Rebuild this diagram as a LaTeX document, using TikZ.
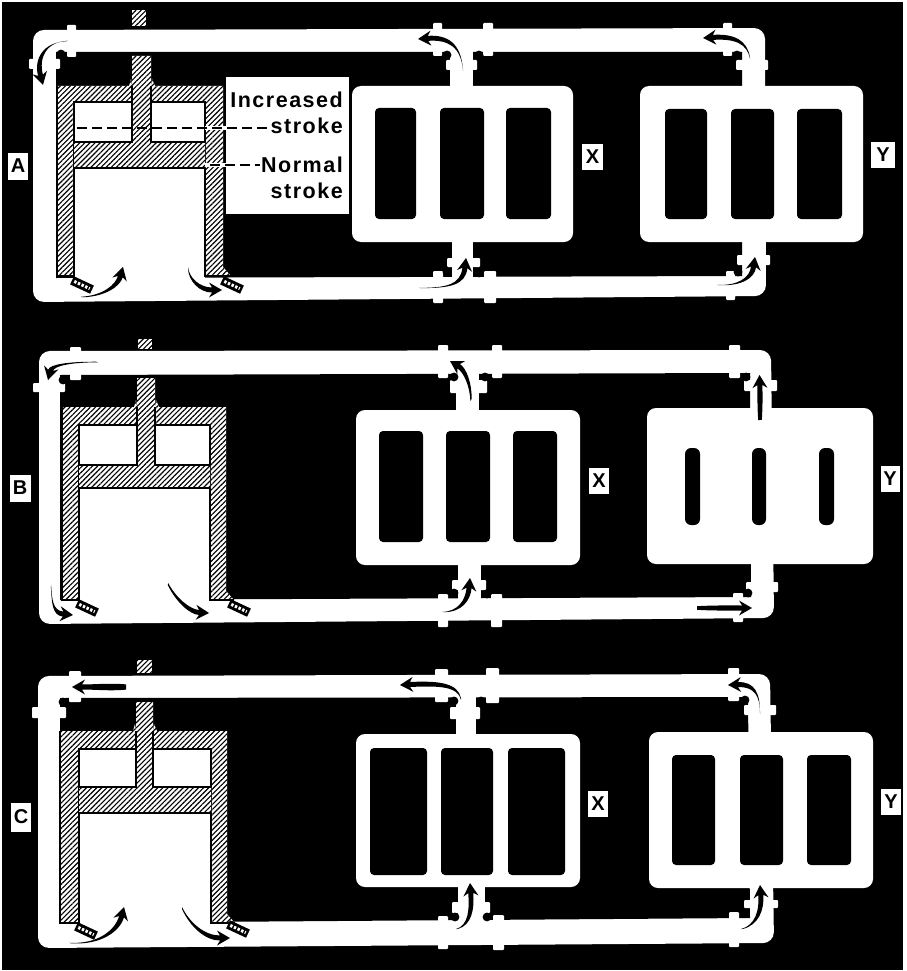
\documentclass[tikz,border=0pt]{standalone}
\usepackage{fontspec}
\setmainfont{Liberation Sans}
\newfontfamily\letterfont[LetterSpace=7]{Liberation Sans}
\usetikzlibrary{patterns.meta}
\tikzset{
  x=1pt,y=-1pt,
  hatch/.style={fill=white,postaction={pattern={Lines[angle=45,distance=3.6pt,line width=1.15pt]},pattern color=black}},
  hole/.style={fill=black,rounded corners=4pt},
  body/.style={fill=white,rounded corners=9pt},
  flange/.style={fill=white,rounded corners=1pt},
  edge/.style={black,line width=2.4pt,line join=miter},
  lbl/.style={fill=white,inner sep=0pt,font=\bfseries\fontsize{20}{20}\selectfont,text=black},
  note/.style={anchor=base east,inner sep=0pt,text=black,font=\letterfont\bfseries\fontsize{21.5}{21.5}\selectfont}
}
\newcommand{\fl}[4]{\path[flange] (#1,#2) rectangle (#3,#4);}
\newcommand{\dt}[2]{\fill[black] (#1,#2) circle (4.4pt);}
\newcommand{\vlv}[2]{\begin{scope}[shift={(#1,#2)},rotate=-25]
  \fill[black] (-11,-4.5) rectangle (11,4.5);
  \draw[white,line width=3pt,dash pattern=on 2.4pt off 1.6pt] (-8.5,0) -- (8.5,0);
\end{scope}}
% tapered flow arrow: start, control, control, tip, tail half width
\newcommand{\arr}[9]{
  \pgfmathsetmacro\arrdx{#7-#5}\pgfmathsetmacro\arrdy{#8-#6}
  \pgfmathsetmacro\arrlen{sqrt(\arrdx*\arrdx+\arrdy*\arrdy)}
  \pgfmathsetmacro\arrux{\arrdx/\arrlen}\pgfmathsetmacro\arruy{\arrdy/\arrlen}
  \pgfmathsetmacro\arrbx{#7-\arrux*10}\pgfmathsetmacro\arrby{#8-\arruy*10}
  \pgfmathsetmacro\arrnx{-\arruy}\pgfmathsetmacro\arrny{\arrux}
  \fill[black] (#1+\arrnx*#9,#2+\arrny*#9) .. controls (#3+\arrnx*#9*1.6,#4+\arrny*#9*1.6) and (#5+\arrnx*2.5,#6+\arrny*2.5) .. (\arrbx+\arrnx*2.5,\arrby+\arrny*2.5)
    -- (\arrbx-\arrux*3+\arrnx*7.5,\arrby-\arruy*3+\arrny*7.5) -- (#7,#8)
    -- (\arrbx-\arrux*3-\arrnx*7.5,\arrby-\arruy*3-\arrny*7.5) -- (\arrbx-\arrnx*2.5,\arrby-\arrny*2.5)
    .. controls (#5-\arrnx*2.5,#6-\arrny*2.5) and (#3-\arrnx*#9*1.6,#4-\arrny*#9*1.6) .. (#1-\arrnx*#9,#2-\arrny*#9) -- cycle;
}
\newcommand{\eng}[7]{
  \path[hatch] (#1,#7) -- (#1,#5) -- (#4,#5) -- (#4,#7-9) -- (#4+8,#7) -- (#3,#7) -- (#3,#6) -- (#2,#6) -- (#2,#7) -- cycle;
  \draw[edge] (#1,#5) -- (#1,#7) -- (#2,#7) -- (#2,#6) -- (#3,#6) -- (#3,#7) -- (#4+8,#7);
}
\newcommand{\pst}[8]{
  \path[hatch] (#1,#3) -- (#5,#3) -- (#5,#7) -- (#6,#7) -- (#6,#3) -- (#2,#3) -- (#2,#4) -- (#1,#4) -- cycle;
  \path[hatch] (#5,#8) -- (#5-3,#8) -- (#5-1,#8-7) -- cycle;
  \path[hatch] (#6,#8) -- (#6+4,#8) -- (#6+1,#8-7) -- cycle;
  \draw[edge] (#1,#3) -- (#5,#3) -- (#5,#8);
  \draw[edge] (#2,#3) -- (#6,#3) -- (#6,#8);
  \draw[edge] (#1,#4) -- (#2,#4);
}
\begin{document}
\begin{tikzpicture}
\useasboundingbox (0,0) rectangle (906,971);
\fill[white] (0,0) rectangle (906,971);
\fill[black] (2,2) rectangle (903,970);

%%%%%%%%%%%% Panel A
\path[fill=white,rounded corners=11pt] (33,30) -- (765,28) -- (766,296) -- (33,302) -- cycle;
\fill[black] (56,52) -- (742,52) -- (742,276) -- (56,278) -- cycle;
\fill[white] (450,50) rectangle (473,90);
\fill[white] (452,238) rectangle (473,279);
\path[body] (352,86) rectangle (573,242);
\path[body] (640,86) rectangle (863,242);
\path[hole] (375,108) rectangle (416,219);
\path[hole] (440,108) rectangle (484,219);
\path[hole] (506,108) rectangle (551,219);
\path[hole] (665,109) rectangle (707,219);
\path[hole] (731,109) rectangle (774,219);
\path[hole] (797,109) rectangle (842,219);
\fl{67}{25}{76}{57}\fl{29}{59}{60}{69}\dt{61}{54}
\fl{433}{23}{442}{56}\fl{483}{23}{493}{56}\fl{446}{60}{477}{70}\dt{447}{55}\dt{479}{55}
\fl{723}{23}{732}{56}\fl{736}{60}{768}{70}\dt{737}{55}
\fl{447}{258}{480}{267}\fl{433}{271}{443}{303}\fl{484}{271}{496}{303}\dt{447}{272}\dt{479}{273}
\fl{737}{255}{770}{265}\fl{726}{271}{735}{300}\dt{738}{272}
\fill[white] (74,102) rectangle (205,290);
\eng{57}{74}{205}{223}{86}{102}{276}
\pst{74}{205}{142}{168}{132}{151}{56}{86}
\path[hatch] (132,10) rectangle (146,26);
\vlv{82}{285}\vlv{232}{285}
\fill[white] (226,77) rectangle (349,214);
\fill[white] (205,126) rectangle (226,130);
\fill[white] (205,163) rectangle (226,167);
\draw[black,line width=2.4pt,dash pattern=on 10pt off 5pt] (77,128) -- (268,128);
\draw[black,line width=2.4pt,dash pattern=on 10pt off 5pt] (210,165) -- (260,165);
\node[note] (inc) at (343,107) {Increased};
\node[note] (str1) at (343,134) {stroke};
\node[note] (nor) at (343,172) {Normal};
\node[note] (str2) at (343,198) {stroke};
\node[lbl,minimum width=20pt,minimum height=27pt] (la) at (18,166) {A};
\node[lbl,minimum width=21pt,minimum height=26pt] (xa) at (592.5,157) {X};
\node[lbl,minimum width=24pt,minimum height=26pt] (ya) at (883,155) {Y};
\arr{67}{41}{45}{42}{36}{58}{43}{85}{1}
\arr{463}{70}{461}{45}{448}{37}{418}{39}{1}
\arr{750}{58}{747}{42}{735}{36}{703}{38}{1}
\arr{420}{288}{448}{288}{463}{285}{466}{258}{1}
\arr{718}{285}{740}{286}{752}{278}{755}{257}{1}
\arr{82}{297}{105}{296}{118}{285}{123}{267}{1}
\arr{188}{268}{189}{280}{200}{290}{222}{290}{1.2}

%%%%%%%%%%%% Panel B
\path[fill=white,rounded corners=11pt] (39,351) -- (771,350) -- (774,618) -- (39,624) -- cycle;
\fill[black] (60,375) -- (750,373) -- (751,597) -- (60,600) -- cycle;
\fill[white] (456,370) rectangle (479,415);
\fill[white] (458,560) rectangle (481,600);
\path[body] (356,410) rectangle (580,565);
\path[body] (647,408) rectangle (873,564);
\path[hole] (379,431) rectangle (423,542);
\path[hole] (446,431) rectangle (490,542);
\path[hole] (513,431) rectangle (557,542);
\path[hole,rounded corners=6pt] (685,448) rectangle (700,525);
\path[hole,rounded corners=6pt] (752,448) rectangle (766,525);
\path[hole,rounded corners=6pt] (819,448) rectangle (834,525);
\fl{70}{347}{81}{380}\fl{33}{383}{65}{392}\dt{63}{380}
\fl{438}{345}{448}{378}\fl{492}{345}{502}{378}\fl{450}{380}{487}{393}\dt{454}{377}\dt{485}{377}
\fl{729}{345}{740}{378}\fl{744}{380}{777}{391}\dt{746}{377}
\fl{452}{580}{486}{590}\fl{438}{594}{448}{627}\fl{491}{594}{502}{627}\dt{454}{593}\dt{487}{594}
\fl{746}{582}{778}{592}\fl{733}{593}{743}{622}\dt{748}{593}
\fill[white] (79,425) rectangle (210,612);
\eng{62}{79}{210}{226}{407}{425}{600}
\pst{79}{210}{465}{488}{137}{155}{378}{407}
\path[hatch] (138,339) rectangle (152,349);
\vlv{87}{608}\vlv{239}{608}
\node[lbl,minimum width=21pt,minimum height=27pt] (lb) at (20,488) {B};
\node[lbl,minimum width=20pt,minimum height=26pt] (xb) at (599,481) {X};
\node[lbl,minimum width=19pt,minimum height=26pt] (yb) at (890,479) {Y};
\arr{97}{362}{70}{362}{52}{365}{48}{380}{1}
\arr{471}{400}{471}{385}{465}{370}{450}{361}{1.2}
\arr{760}{420}{760}{405}{760}{390}{759.5}{375}{1.8}
\arr{51}{586}{52}{600}{52}{613}{73}{615}{1}
\arr{168}{584}{176}{600}{190}{612}{209}{613}{1.2}
\arr{443}{612}{460}{612}{468}{600}{470}{578}{1.2}
\arr{697}{608}{715}{608}{735}{608}{752}{608}{1.8}

%%%%%%%%%%%% Panel C
\path[fill=white,rounded corners=11pt] (38,676) -- (770,674) -- (774,943) -- (38,948) -- cycle;
\fill[black] (60,698) -- (748,697) -- (750,918) -- (60,923) -- cycle;
\fill[white] (456,695) rectangle (476,740);
\fill[white] (458,880) rectangle (485,925);
\path[body] (356,734) rectangle (580,887);
\path[body] (649,732) rectangle (873,888);
\path[hole] (370,748) rectangle (427,875);
\path[hole] (441,748) rectangle (493,875);
\path[hole] (508,748) rectangle (565,875);
\path[hole] (672,755) rectangle (715,865);
\path[hole] (740,755) rectangle (783,865);
\path[hole] (807,755) rectangle (851,865);
\fl{69}{671}{81}{702}\fl{32}{707}{66}{718}\dt{63}{702}
\fl{435}{669}{448}{702}\fl{486}{668}{499}{703}\fl{450}{707}{480}{719}\dt{454}{701}\dt{481}{701}
\fl{728}{668}{739}{701}\fl{744}{705}{776}{715}\dt{745}{700}
\fl{452}{902}{490}{913}\fl{438}{916}{448}{949}\fl{493}{915}{504}{950}\dt{455}{917}\dt{487}{917}
\fl{744}{900}{778}{908}\fl{729}{912}{739}{947}\dt{745}{913}
\fill[white] (79,749) rectangle (211,936);
\eng{60}{79}{211}{227}{731}{749}{923}
\pst{79}{211}{787}{813}{136}{153}{702}{731}
\path[hatch] (137,660) rectangle (152,673);
\vlv{86}{931}\vlv{238}{929}
\node[lbl,minimum width=20pt,minimum height=29pt] (lc) at (21,817) {C};
\node[lbl,minimum width=20pt,minimum height=26pt] (xc) at (598,804) {X};
\node[lbl,minimum width=20pt,minimum height=26pt] (yc) at (891,802) {Y};
\arr{126}{687}{110}{687}{95}{687}{72}{687}{2.6}
\arr{461}{699}{458}{685}{440}{683}{400}{685}{1}
\arr{760}{713}{760}{695}{755}{684}{728}{685}{1}
\arr{70}{943}{100}{945}{118}{930}{124}{907}{1}
\arr{182}{908}{190}{925}{205}{938}{230}{938}{1}
\arr{457}{929}{470}{925}{472}{910}{470}{883}{1}
\arr{742}{929}{757}{925}{762}{910}{760}{885}{1}
\end{tikzpicture}
\end{document}
